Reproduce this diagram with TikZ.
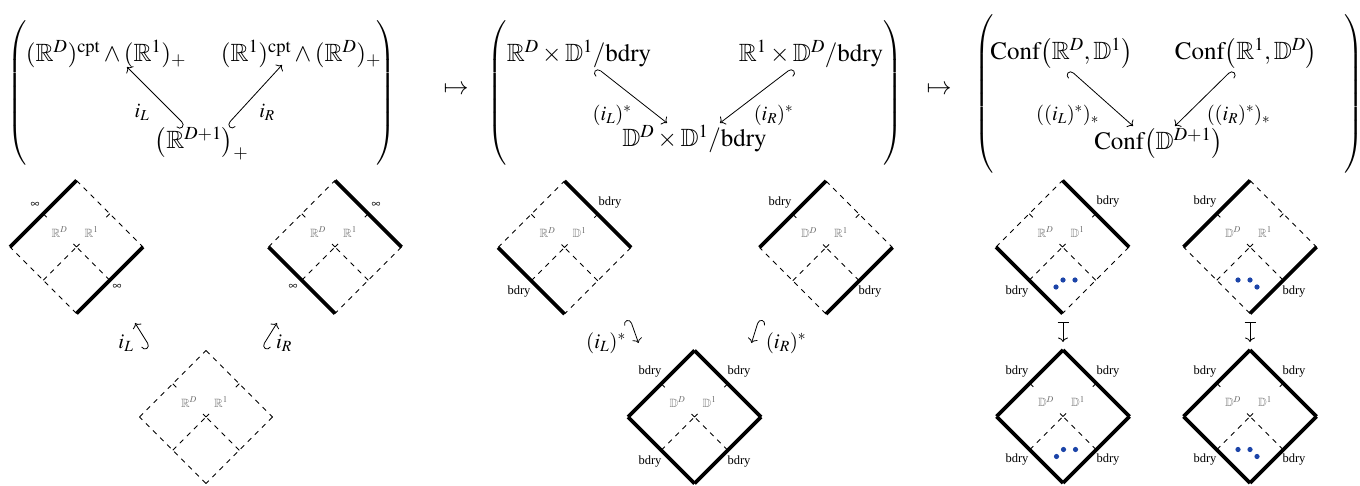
\documentclass[tikz,border=0pt]{standalone}
\usepackage{mathptmx}
\usepackage{amssymb}
\usepackage{fontspec}
\setmainfont{Liberation Serif}
\usetikzlibrary{arrows.meta}
\definecolor{graytxt}{gray}{0.45}
\definecolor{dotblue}{RGB}{28,68,168}
\tikzset{
  big/.style={font=\fontsize{25}{30}\selectfont, inner sep=0pt, anchor=base},
  tlab/.style={font=\fontsize{20.5}{24}\selectfont, inner sep=0pt},
  blab/.style={font=\fontsize{21}{25}\selectfont, inner sep=0pt},
  sm/.style={font=\fontsize{12.5}{15}\selectfont, inner sep=0pt},
  inn/.style={font=\fontsize{12}{14}\selectfont, inner sep=0pt, text=graytxt},
  thk/.style={line width=3.6pt, line cap=projecting},
  dsh/.style={line width=0.8pt, dash pattern=on 5pt off 5pt},
  tk/.style={line width=0.8pt},
  hkL/.style={line width=0.8pt, {Hooks[left,width=15pt,length=4.5pt]}-{Computer Modern Rightarrow[length=4.5pt,width=10pt]}},
  hkR/.style={line width=0.8pt, {Hooks[right,width=15pt,length=4.5pt]}-{Computer Modern Rightarrow[length=4.5pt,width=10pt]}},
  mto/.style={line width=0.8pt, {Bar[width=11pt]}-{Computer Modern Rightarrow[length=4.5pt,width=10pt]}},
  paren/.style={font=\fontsize{22}{26}\selectfont, inner sep=0pt},
  pics/dm/.style n args={6}{code={
    \coordinate (-c) at (0,0);
    \draw[#1] (-66.5,0) -- (0,-66.5);
    \draw[#2] (0,-66.5) -- (66.5,0);
    \draw[#3] (66.5,0) -- (0,66.5);
    \draw[#4] (0,66.5) -- (-66.5,0);
    \draw[dsh] (-33.25,33.25) -- (0,0);
    \draw[dsh] (33.25,33.25) -- (0,0);
    \draw[tk] (0,0) -- (-3,-3) (0,0) -- (3,-3)
              (-33.25,-33.25) -- ++(3.5,3.5) (33.25,-33.25) -- ++(-3.5,3.5);
    \node[inn] (-lt) at (-17,-15) {#5};
    \node[inn] (-rt) at (15,-15) {#6};
  }},
}
\begin{document}
\begin{tikzpicture}[x=1pt,y=-1pt]
\useasboundingbox (0,0) rectangle (1360,486);

% ---------- top: left matrix ----------
\node[paren] (pl1) at (18,93) {$\left(\vcenter{\hrule height 145pt width 0pt}\right.$};
\node[paren] (pr1) at (386,93) {$\left.\vcenter{\hrule height 145pt width 0pt}\right)$};
\node[big] (L1) at (106,62) {$(\mathbb{R}^D)^{\mathrm{cpt}}\wedge(\mathbb{R}^1)_+$};
\node[big] (L2) at (301,62) {$(\mathbb{R}^1)^{\mathrm{cpt}}\wedge(\mathbb{R}^D)_+$};
\node[big] (L3) at (201.5,149) {$\bigl(\mathbb{R}^{D+1}\bigr)_+$};
\draw[hkR] ([shift={(-16.5,-24)}]L3.base) -- ([shift={(21,5)}]L1.base);
\draw[hkL] ([shift={(25.5,-24)}]L3.base) -- ([shift={(-19,3)}]L2.base);
\node[tlab] (iL) at (142,112) {$i_L$};
\node[tlab] (iR) at (267,112) {$i_R$};

\node[big, anchor=center] (mt1) at (456,90) {$\mapsto$};

% ---------- top: middle matrix ----------
\node[paren] (pl2) at (498,93) {$\left(\vcenter{\hrule height 145pt width 0pt}\right.$};
\node[paren] (pr2) at (893,93) {$\left.\vcenter{\hrule height 145pt width 0pt}\right)$};
\node[big] (M1) at (579,62) {$\mathbb{R}^D\times\mathbb{D}^1/\mathrm{bdry}$};
\node[big] (M2) at (811,62) {$\mathbb{R}^1\times\mathbb{D}^D/\mathrm{bdry}$};
\node[big] (M3) at (694.5,147) {$\mathbb{D}^D\times\mathbb{D}^1/\mathrm{bdry}$};
\draw[hkL] ([shift={(18,6)}]M1.base) -- ([shift={(-27.5,-24)}]M3.base);
\draw[hkR] ([shift={(-19,6)}]M2.base) -- ([shift={(25.5,-24)}]M3.base);
\node[tlab] (iLs) at (612,115) {$(i_L)^*$};
\node[tlab] (iRs) at (773.5,115) {$(i_R)^*$};

\node[big, anchor=center] (mt2) at (939,90) {$\mapsto$};

% ---------- top: right matrix ----------
\node[paren] (pl3) at (985,94) {$\left(\vcenter{\hrule height 157pt width 0pt}\right.$};
\node[paren] (pr3) at (1354,94) {$\left.\vcenter{\hrule height 157pt width 0pt}\right)$};
\node[big] (R1) at (1061.5,60) {$\mathrm{Conf}\bigl(\mathbb{R}^D,\mathbb{D}^1\bigr)$};
\node[big] (R2) at (1246,60) {$\mathrm{Conf}\bigl(\mathbb{R}^1,\mathbb{D}^D\bigr)$};
\node[big] (R3) at (1158.5,150) {$\mathrm{Conf}\bigl(\mathbb{D}^{D+1}\bigr)$};
\draw[hkL] ([shift={(8.5,10)}]R1.base) -- ([shift={(-25.5,-24)}]R3.base);
\draw[hkR] ([shift={(-14,10)}]R2.base) -- ([shift={(16.5,-24)}]R3.base);
\node[tlab] (iLss) at (1067.5,115) {$((i_L)^*)_*$};
\node[tlab] (iRss) at (1238.5,115) {$((i_R)^*)_*$};

% ---------- bottom: left group ----------
\pic (A) at (76.5,247) {dm={thk}{dsh}{thk}{dsh}{$\mathbb{R}^D$}{$\mathbb{R}^1$}};
\pic (B) at (335,247) {dm={dsh}{thk}{dsh}{thk}{$\mathbb{R}^D$}{$\mathbb{R}^1$}};
\pic (C) at (206,417) {dm={dsh}{dsh}{dsh}{dsh}{$\mathbb{R}^D$}{$\mathbb{R}^1$}};
\node[sm] (A1) at (35,205) {$\infty$};
\node[sm] (A2) at (117,287) {$\infty$};
\node[sm] (B1) at (376,205) {$\infty$};
\node[sm] (B2) at (293,287) {$\infty$};
\draw[hkR] ([shift={(-56,-70)}]C-c) -- ([shift={(-71,-94)}]C-c);
\draw[hkL] ([shift={(56,-70)}]C-c) -- ([shift={(71,-94)}]C-c);
\node[blab] (iL2) at (126,343) {$i_L$};
\node[blab] (iR2) at (284,343) {$i_R$};

% ---------- bottom: middle group ----------
\pic (D) at (564.5,247.5) {dm={dsh}{thk}{dsh}{thk}{$\mathbb{R}^D$}{$\mathbb{D}^1$}};
\pic (E) at (826,247.5) {dm={thk}{dsh}{thk}{dsh}{$\mathbb{D}^D$}{$\mathbb{R}^1$}};
\pic (F) at (694.5,417) {dm={thk}{thk}{thk}{thk}{$\mathbb{D}^D$}{$\mathbb{D}^1$}};
\node[sm] (D1) at (610,203) {bdry};
\node[sm] (D2) at (519,292) {bdry};
\node[sm] (E1) at (780,203) {bdry};
\node[sm] (E2) at (870,292) {bdry};
\node[sm] (F1) at (650,372) {bdry};
\node[sm] (F2) at (739,372) {bdry};
\node[sm] (F3) at (650,462) {bdry};
\node[sm] (F4) at (739,462) {bdry};
\draw[hkL] ([shift={(-64.5,-98)}]F-c) -- ([shift={(-56,-74)}]F-c);
\draw[hkR] ([shift={(64.5,-98)}]F-c) -- ([shift={(57,-74)}]F-c);
\node[blab] (iL3) at (606,343) {$(i_L)^*$};
\node[blab] (iR3) at (786,343) {$(i_R)^*$};

% ---------- bottom: right group ----------
\pic (G) at (1062.5,247) {dm={dsh}{thk}{dsh}{thk}{$\mathbb{R}^D$}{$\mathbb{D}^1$}};
\pic (H) at (1250,247) {dm={thk}{dsh}{thk}{dsh}{$\mathbb{D}^D$}{$\mathbb{R}^1$}};
\pic (I) at (1063,416.5) {dm={thk}{thk}{thk}{thk}{$\mathbb{D}^D$}{$\mathbb{D}^1$}};
\pic (J) at (1250,416.5) {dm={thk}{thk}{thk}{thk}{$\mathbb{D}^D$}{$\mathbb{D}^1$}};
\node[sm] (G1) at (1108,202) {bdry};
\node[sm] (G2) at (1017,292) {bdry};
\node[sm] (H1) at (1205,202) {bdry};
\node[sm] (H2) at (1294,292) {bdry};
\node[sm] (I1) at (1017,372) {bdry};
\node[sm] (I2) at (1108,372) {bdry};
\node[sm] (I3) at (1017,460) {bdry};
\node[sm] (I4) at (1108,460) {bdry};
\node[sm] (J1) at (1205,372) {bdry};
\node[sm] (J2) at (1294,372) {bdry};
\node[sm] (J3) at (1205,460) {bdry};
\node[sm] (J4) at (1294,460) {bdry};
\foreach \p in {G,I}{
  \fill[dotblue] ([shift={(-6.5,40)}]\p-c) circle (2.6pt);
  \fill[dotblue] ([shift={(0.5,33)}]\p-c) circle (2.6pt);
  \fill[dotblue] ([shift={(12.5,33)}]\p-c) circle (2.6pt);
}
\foreach \p in {H,J}{
  \fill[dotblue] ([shift={(-12,33)}]\p-c) circle (2.6pt);
  \fill[dotblue] ([shift={(0,33)}]\p-c) circle (2.6pt);
  \fill[dotblue] ([shift={(7,40)}]\p-c) circle (2.6pt);
}
\draw[mto] ([shift={(0,-94.5)}]I-c) -- ([shift={(0,-74.5)}]I-c);
\draw[mto] ([shift={(0,-94.5)}]J-c) -- ([shift={(0,-74.5)}]J-c);
\end{tikzpicture}
\end{document}
